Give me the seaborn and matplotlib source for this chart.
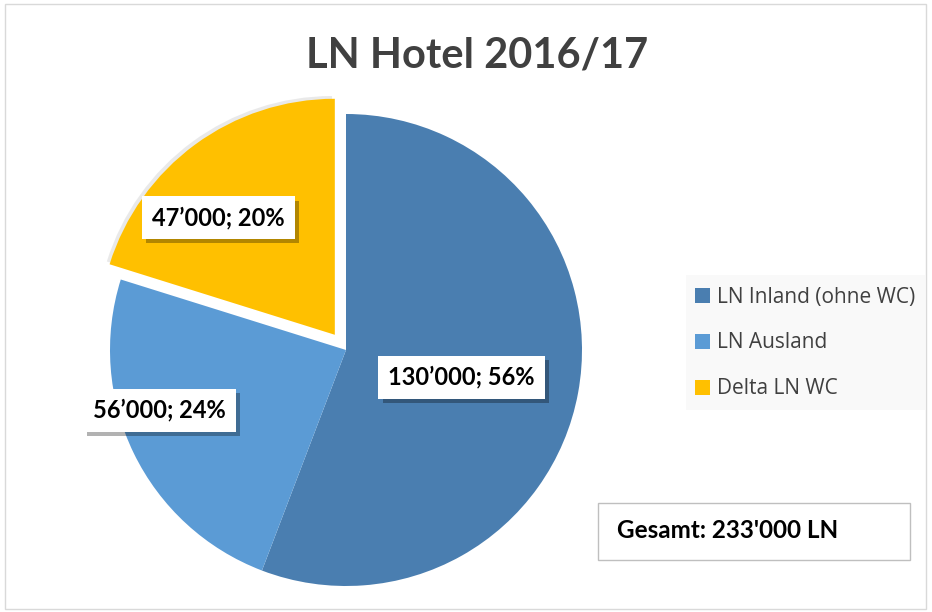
import matplotlib
matplotlib.use("Agg")
import matplotlib.pyplot as plt
import matplotlib.patheffects as pe
from matplotlib.patches import Rectangle
import seaborn as sns

# data
categories = ["LN Inland (ohne WC)", "LN Ausland", "Delta LN WC"]
values = [130000, 56000, 47000]
colors = ["#4A7EB0", "#5B9BD5", "#FFC000"]
title = "LN Hotel 2016/17"
total_text = "Gesamt: 233'000 LN"

sns.set_theme(style="white")
plt.rcParams["font.family"] = ["Lato", "DejaVu Sans"]

fig = plt.figure(figsize=(9.32, 6.12), dpi=100)
W, H = 932, 612

# pie axes: center (346, 350) px from top, radius 236 px
L = 1.2
S = 236 * L
cx, cy = 346, H - 350
ax = fig.add_axes([(cx - S) / W, (cy - S) / H, 2 * S / W, 2 * S / H])

wedges, _ = ax.pie(values, colors=sns.color_palette(colors), startangle=90,
                   counterclock=False, explode=[0, 0, 0.08],
                   wedgeprops=dict(linewidth=0))
ax.set_xlim(-L, L)
ax.set_ylim(-L, L)
ax.axis("off")
for w in wedges:
    w.set_clip_on(False)
wedges[2].set_path_effects([pe.SimplePatchShadow(offset=(-2, 2), shadow_rgbFace="#AAAAAA", alpha=0.25),
                            pe.Normal()])

total = sum(values)
label_pos = [(0.49, -0.115), (-0.79, -0.255), (-0.54, 0.56)]
for v, (x, y) in zip(values, label_pos):
    txt = f"{v // 1000}\u2019000; {round(100 * v / total)}%"
    t = ax.text(x, y, txt, ha="center", va="center", fontsize=17, fontweight="bold",
                color="black", bbox=dict(boxstyle="square,pad=0.42", fc="white", ec="none"))
    t.get_bbox_patch().set_path_effects([
        pe.SimplePatchShadow(offset=(3, -3), shadow_rgbFace="#000000", alpha=0.3),
        pe.Normal()])

fig.text(477 / W, 1 - 55 / H, title, ha="center", va="center", fontsize=30,
         fontweight="bold", color="#404040")

# legend background
fig.patches.append(Rectangle((686 / W, 1 - 410 / H), 239 / W, 135 / H,
                             transform=fig.transFigure, fc="#F9F9F9", ec="none", zorder=0))
handles = [plt.Rectangle((0, 0), 1, 1, fc=c, ec="none") for c in colors]
leg = fig.legend(handles, categories, loc="center left",
                 bbox_to_anchor=(695 / W, 1 - 343 / H), frameon=False,
                 prop={"family": "Open Sans", "size": 15}, labelcolor="#404040",
                 handlelength=0.7, handleheight=0.7, handletextpad=0.35,
                 labelspacing=1.2, borderpad=0, borderaxespad=0)

# total box
fig.patches.append(Rectangle((598 / W, 1 - 560 / H), 312 / W, 57 / H,
                             transform=fig.transFigure, fc="white", ec="#BFBFBF", lw=1))
fig.text(617 / W, 1 - 530 / H, total_text, ha="left", va="center", fontsize=17.5,
         fontweight="bold", color="black")

# outer border
fig.patches.append(Rectangle((5 / W, 3 / H), 921 / W, 605 / H, transform=fig.transFigure,
                             fc="none", ec="#D9D9D9", lw=1))

fig.savefig("out.png", dpi=100)
